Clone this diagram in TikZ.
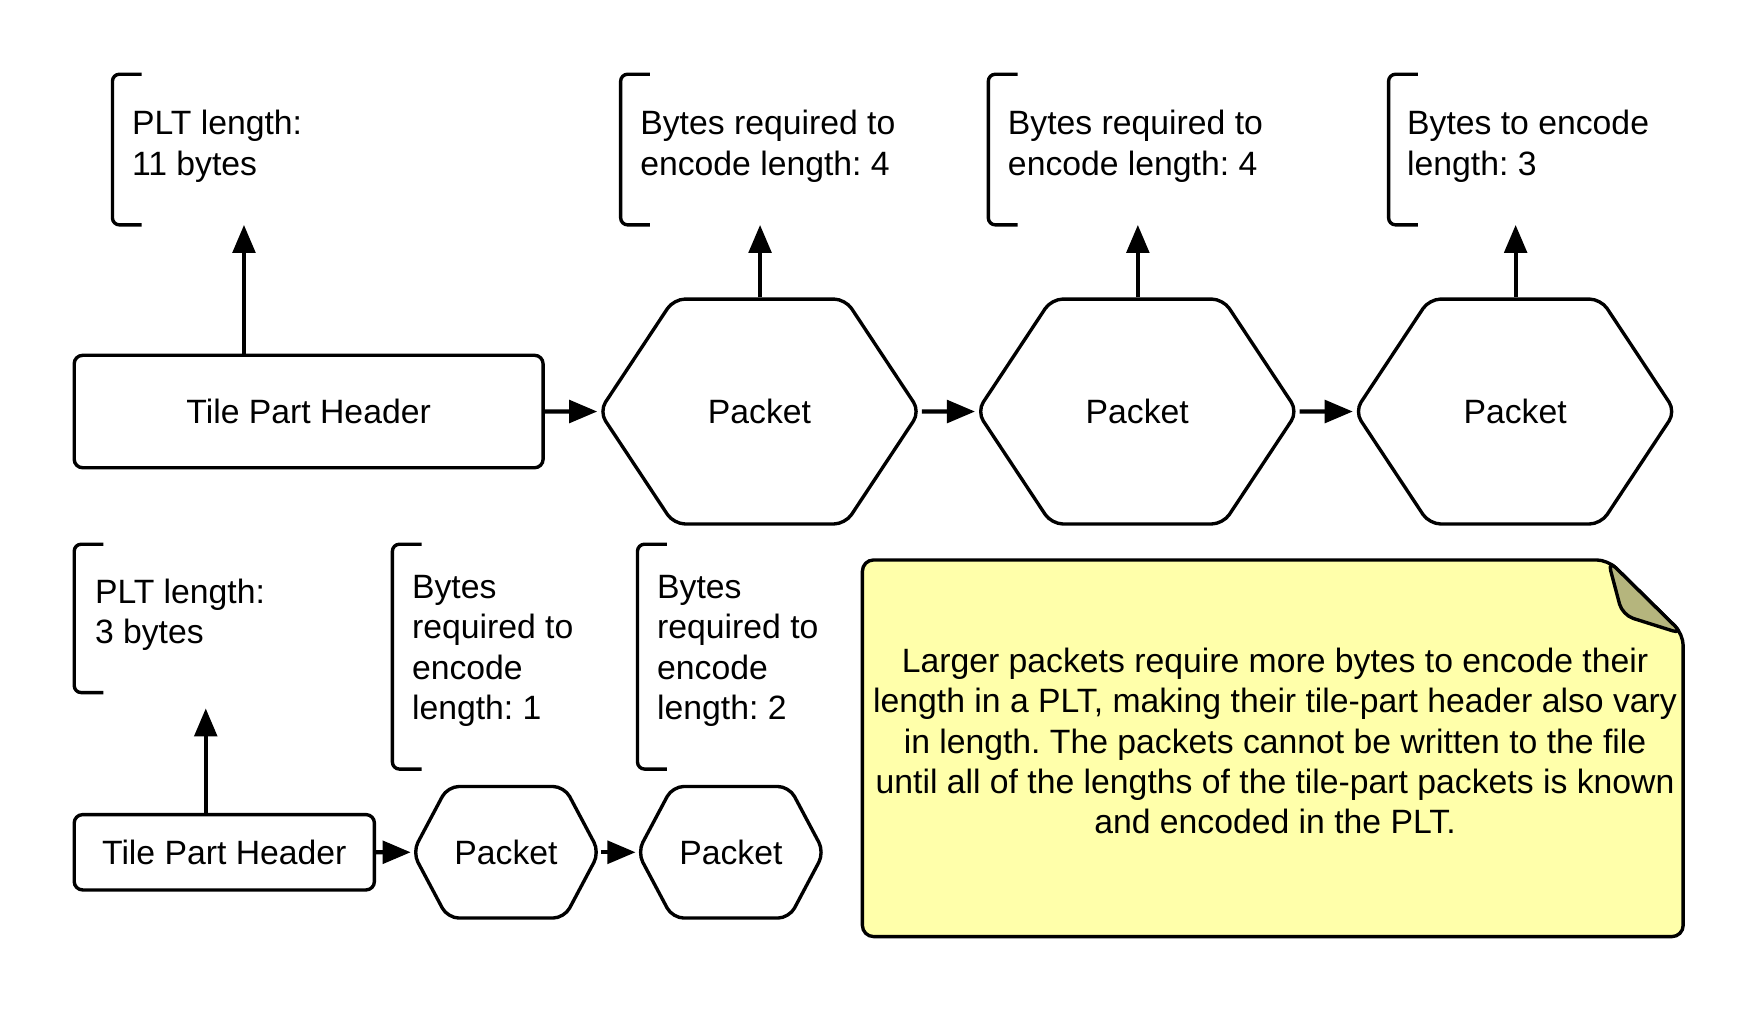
\documentclass[tikz,border=0pt]{standalone}
\usepackage{fontspec}
\setmainfont{Liberation Sans}
\usepackage{tikz}
\usetikzlibrary{shapes,arrows.meta}
\frenchspacing

\tikzset{
	box/.style={draw, line width=1.2pt, rounded corners=3pt, inner sep=0pt},
	packet/.style={draw, line width=1.2pt, rounded corners=4pt, inner sep=0pt, signal, signal to=west and east},
	bracket/.style={line width=1.2pt, rounded corners=2.5pt},
	lbl/.style={anchor=west, align=left, inner sep=0pt},
	link/.style={line width=1.5pt, -{Triangle[length=10pt,width=8pt]}}
}

\begin{document}
\begin{tikzpicture}[x=0.4pt, y=-0.4pt, font=\fontsize{12}{14.4}\selectfont]
	%Page size and the two row heights
	\useasboundingbox (0,0) rectangle (1568,901);
	\pgfmathsetmacro{\ytop}{366}
	\pgfmathsetmacro{\ybot}{758}

	%Top row: header and three packets
	\node[box, minimum width=166.8pt, minimum height=40pt] (tph) at (274.5,\ytop) {Tile Part Header};
	\node[packet, signal pointer angle=113, minimum width=114pt, minimum height=80pt] (pk1) at (675.5,\ytop) {Packet};
	\node[packet, signal pointer angle=113, minimum width=114pt, minimum height=80pt] (pk2) at (1011.5,\ytop) {Packet};
	\node[packet, signal pointer angle=113, minimum width=114pt, minimum height=80pt] (pk3) at (1347.5,\ytop) {Packet};

	\draw[link] (tph) -- (pk1);
	\draw[link] (pk1) -- (pk2);
	\draw[link] (pk2) -- (pk3);

	%Brackets above the top row
	\foreach \bx in {100,552,879,1235}
		\draw[bracket] (\bx+26,66) -- (\bx,66) -- (\bx,200) -- (\bx+26,200);
	\node[lbl] (t1) at (117,130) {PLT length:\\11 bytes};
	\node[lbl] (t2) at (569,130) {Bytes required to\\encode length: 4};
	\node[lbl] (t3) at (896,130) {Bytes required to\\encode length: 4};
	\node[lbl] (t4) at (1251,130) {Bytes to encode\\length: 3};

	\coordinate (c1) at (217,200);
	\coordinate (c2) at (676,200);
	\coordinate (c3) at (1012,200);
	\coordinate (c4) at (1348,200);
	\draw[link] (tph.north -| c1) -- (c1);
	\draw[link] (pk1.north -| c2) -- (c2);
	\draw[link] (pk2.north -| c3) -- (c3);
	\draw[link] (pk3.north -| c4) -- (c4);

	%Bottom row: smaller header and two packets
	\node[box, minimum width=106.8pt, minimum height=26.8pt] (stph) at (199.5,\ybot) {Tile Part Header};
	\node[packet, signal pointer angle=124, minimum width=66.4pt, minimum height=46.8pt] (spk1) at (450,\ybot) {Packet};
	\node[packet, signal pointer angle=124, minimum width=66.4pt, minimum height=46.8pt] (spk2) at (650,\ybot) {Packet};

	\draw[link] (stph) -- (spk1);
	\draw[link] (spk1) -- (spk2);

	%Brackets above the bottom row
	\draw[bracket] (92,484) -- (66,484) -- (66,616) -- (92,616);
	\draw[bracket] (375,484) -- (349,484) -- (349,684) -- (375,684);
	\draw[bracket] (593,484) -- (567,484) -- (567,684) -- (593,684);
	\node[lbl] (t5) at (84,547) {PLT length:\\3 bytes};
	\node[lbl] (t6) at (366,579) {Bytes\\required to\\encode\\length: 1};
	\node[lbl] (t7) at (584,579) {Bytes\\required to\\encode\\length: 2};

	\coordinate (c5) at (183,630);
	\draw[link] (stph.north -| c5) -- (c5);

	%Note with folded corner
	\draw[line width=1.2pt, fill={rgb,255:red,255;green,255;blue,170}, rounded corners=4pt]
		(767,498) -- (1430,498) -- (1497,564) -- (1497,833) -- (767,833) -- cycle;
	\draw[line width=1.2pt, fill={rgb,255:red,181;green,181;blue,125}, rounded corners=4pt]
		(1430,498) -- (1443,547) -- (1497,564) -- cycle;
	\node[align=center, inner sep=0pt] (note) at (1134,659) {Larger packets require more bytes to encode their\\length in a PLT, making their tile-part header also vary\\in length. The packets cannot be written to the file\\until all of the lengths of the tile-part packets is known\\and encoded in the PLT.};
\end{tikzpicture}
\end{document}
